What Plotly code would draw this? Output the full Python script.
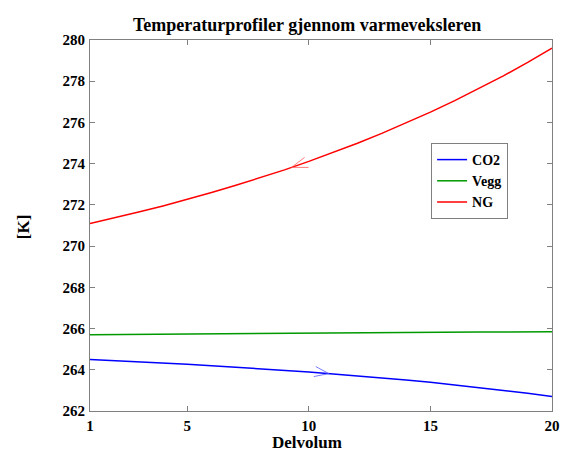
import plotly.graph_objects as go
import numpy as np

delvolum = list(range(1, 21))
co2 = [264.50, 264.45, 264.39, 264.33, 264.27, 264.20, 264.13, 264.06, 263.98, 263.89,
       263.80, 263.71, 263.61, 263.50, 263.39, 263.27, 263.14, 263.00, 262.86, 262.70]
vegg = [265.70, 265.71, 265.72, 265.73, 265.74, 265.75, 265.76, 265.77, 265.77, 265.78,
        265.79, 265.80, 265.80, 265.81, 265.82, 265.82, 265.83, 265.83, 265.84, 265.84]
ng = [271.10, 271.37, 271.65, 271.95, 272.27, 272.60, 272.95, 273.31, 273.70, 274.11,
      274.54, 274.99, 275.47, 275.97, 276.50, 277.06, 277.64, 278.26, 278.91, 279.60]
series_names = ["CO2", "Vegg", "NG"]
colors = ["#0000ff", "#009900", "#ff0000"]
x_ticks = [1, 5, 10, 15, 20]
y_ticks = list(range(262, 281, 2))

FONT = "Liberation Serif, Times New Roman, serif"

fig = go.Figure()
for name, vals, c in zip(series_names, [co2, vegg, ng], colors):
    fig.add_trace(go.Scatter(x=delvolum, y=vals, mode="lines", name="<b>%s</b>" % name,
                             line=dict(color=c, width=1.5)))

def arrow(xpos, series, barbs, color):
    yv = float(np.interp(xpos, delvolum, series))
    for dx, dy in barbs:
        fig.add_shape(type="line", xref="x", yref="y",
                      xsizemode="pixel", ysizemode="pixel",
                      xanchor=xpos, yanchor=yv,
                      x0=0, y0=0, x1=dx, y1=dy,
                      line=dict(color=color, width=1))

arrow(9.29, ng, [(13, 10), (17, 0)], "rgba(255,90,90,0.8)")
arrow(10.82, co2, [(-13, 7), (-15, -3)], "rgba(90,90,255,0.8)")

axis_common = dict(showline=True, linecolor="#808080", linewidth=1, mirror="ticks",
                   ticks="inside", ticklen=5, tickcolor="#808080", showgrid=False,
                   zeroline=False,
                   tickfont=dict(family=FONT, size=15, color="black"))

plot_w = 570 - 90 - 10
plot_h = 452 - 40 - 41

fig.update_layout(
    width=570, height=452,
    margin=dict(l=90, r=10, t=40, b=41),
    paper_bgcolor="white", plot_bgcolor="white",
    font=dict(family=FONT, size=15, color="black"),
    showlegend=True,
    xaxis=dict(range=[1, 20], tickvals=x_ticks,
               ticktext=["<b>%d</b>" % v for v in x_ticks],
               ticklabelstandoff=1, **axis_common),
    yaxis=dict(range=[262, 280], tickvals=y_ticks,
               ticktext=["<b>%d</b>" % v for v in y_ticks],
               ticklabelstandoff=1, **axis_common),
    legend=dict(
        x=(437 - 90) / plot_w, y=1 - (143 - 40) / plot_h,
        xanchor="left", yanchor="top",
        bgcolor="white", bordercolor="#808080", borderwidth=1,
        font=dict(family=FONT, size=14, color="black"),
        tracegroupgap=0, itemwidth=30,
    ),
)

fig.add_annotation(text="<b>Temperaturprofiler gjennom varmeveksleren</b>",
                   xref="paper", yref="paper",
                   x=(311 - 90) / plot_w, y=1 + (40 - 25) / plot_h,
                   showarrow=False, xanchor="center", yanchor="middle",
                   font=dict(family=FONT, size=18, color="black"))
fig.add_annotation(text="<b>Delvolum</b>", xref="paper", yref="paper",
                   x=(311 - 90) / plot_w, y=-(442 - 411) / plot_h,
                   showarrow=False, xanchor="center", yanchor="middle",
                   font=dict(family=FONT, size=17, color="black"))
fig.add_annotation(text="<b>[K]</b>", xref="paper", yref="paper",
                   x=-(90 - 22) / plot_w, y=1 - (227 - 40) / plot_h,
                   showarrow=False, xanchor="center", yanchor="middle", textangle=-90,
                   font=dict(family=FONT, size=17, color="black"))

fig.write_html("out.html")
